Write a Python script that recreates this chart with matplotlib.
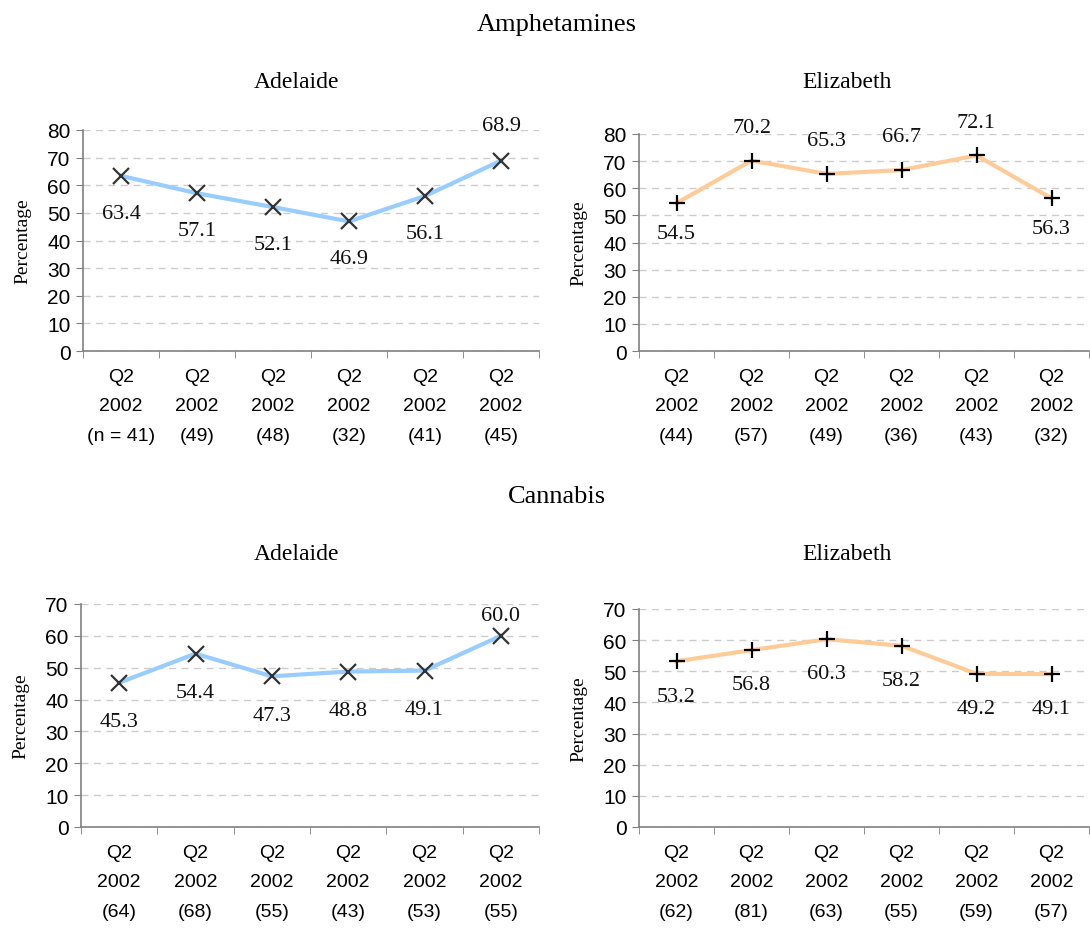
import matplotlib
matplotlib.use("Agg")
import matplotlib.pyplot as plt
from matplotlib.ticker import FixedLocator, NullFormatter

# ---------------- data ----------------
n_amph_adel = ["(n = 41)", "(49)", "(48)", "(32)", "(41)", "(45)"]
n_amph_eliz = ["(44)", "(57)", "(49)", "(36)", "(43)", "(32)"]
n_cann_adel = ["(64)", "(68)", "(55)", "(43)", "(53)", "(55)"]
n_cann_eliz = ["(62)", "(81)", "(63)", "(55)", "(59)", "(57)"]
period = "Q2\n2002"

amph_adel = [63.4, 57.1, 52.1, 46.9, 56.1, 68.9]
amph_eliz = [54.5, 70.2, 65.3, 66.7, 72.1, 56.3]
cann_adel = [45.3, 54.4, 47.3, 48.8, 49.1, 60.0]
cann_eliz = [53.2, 56.8, 60.3, 58.2, 49.2, 49.1]

# label placement: 1 = above, -1 = below
pos_amph_adel = [-1, -1, -1, -1, -1, 1]
pos_amph_eliz = [-1, 1, 1, 1, 1, -1]
pos_cann_adel = [-1, -1, -1, -1, -1, 1]
pos_cann_eliz = [-1, -1, -1, -1, -1, -1]

SERIF = ["Liberation Serif", "DejaVu Serif"]
SANS = ["Liberation Sans", "DejaVu Sans"]

fig = plt.figure(figsize=(10.9, 9.29), dpi=100)

BLUE = "#99CCFF"
ORANGE = "#FFCC99"


def panel(rect, values, ns, pos, ymax, color, marker, mcolor, off_below, off_above):
    ax = fig.add_axes(rect)
    x = list(range(len(values)))
    ax.plot(x, values, color=color, lw=3, zorder=2)
    ax.plot(x, values, linestyle="none", marker=marker, ms=11 if marker == "x" else 12,
            mew=1.6, color=mcolor, zorder=3)
    for xi, v, p in zip(x, values, pos):
        off = off_above if p > 0 else -off_below
        ax.annotate(f"{v:.1f}", (xi, v), xytext=(0, off), textcoords="offset points",
                    ha="center", va="center", fontsize=16, family=SERIF, color="#111111")
    ax.set_xlim(-0.5, len(values) - 0.5)
    ax.set_ylim(0, ymax)
    ax.set_yticks(range(0, ymax + 1, 10))
    ax.set_xticks(x)
    ax.set_xticklabels([f"{period}\n{n}" for n in ns], family=SANS, fontsize=14,
                       linespacing=1.98)
    ax.xaxis.set_minor_locator(FixedLocator([i - 0.5 for i in range(len(values) + 1)]))
    ax.xaxis.set_minor_formatter(NullFormatter())
    ax.tick_params(axis="x", which="major", length=0, pad=12)
    ax.tick_params(axis="x", which="minor", length=5, color="#808080", direction="out")
    ax.tick_params(axis="y", length=5, color="#808080", direction="out", pad=4,
                   labelsize=15)
    for lab in ax.get_yticklabels():
        lab.set_family(SANS)
    for s in ("top", "right"):
        ax.spines[s].set_visible(False)
    for s in ("left", "bottom"):
        ax.spines[s].set_color("#808080")
        ax.spines[s].set_linewidth(1.2)
    ax.yaxis.grid(True, linestyle=(0, (5, 4)), color="#cccccc", lw=1)
    ax.set_axisbelow(True)
    ax.set_ylabel("Percentage", family=SERIF, fontsize=14, labelpad=11)
    return ax


W, H = 1090, 929


def rect(l, r, t, b):
    return [l / W, 1 - b / H, (r - l) / W, (b - t) / H]


panel(rect(83, 539, 131, 352), amph_adel, n_amph_adel, pos_amph_adel, 80, BLUE, "x",
      "#333333", 27, 25)
panel(rect(639, 1089, 135, 352), amph_eliz, n_amph_eliz, pos_amph_eliz, 80, ORANGE, "+",
      "#000000", 22, 24)
panel(rect(81, 539, 605, 828), cann_adel, n_cann_adel, pos_cann_adel, 70, BLUE, "x",
      "#333333", 28, 15)
panel(rect(639, 1089, 610, 828), cann_eliz, n_cann_eliz, pos_cann_eliz, 70, ORANGE, "+",
      "#000000", 25, 24)

fig.text(557 / W, 1 - 25 / H, "Amphetamines", ha="center", va="center", family=SERIF,
         fontsize=19)
fig.text(297 / W, 1 - 82 / H, "Adelaide", ha="center", va="center", family=SERIF,
         fontsize=17)
fig.text(847 / W, 1 - 82 / H, "Elizabeth", ha="center", va="center", family=SERIF,
         fontsize=17)
fig.text(557 / W, 1 - 497 / H, "Cannabis", ha="center", va="center", family=SERIF,
         fontsize=19)
fig.text(297 / W, 1 - 555 / H, "Adelaide", ha="center", va="center", family=SERIF,
         fontsize=17)
fig.text(847 / W, 1 - 555 / H, "Elizabeth", ha="center", va="center", family=SERIF,
         fontsize=17)

fig.savefig("out.png", dpi=100)
